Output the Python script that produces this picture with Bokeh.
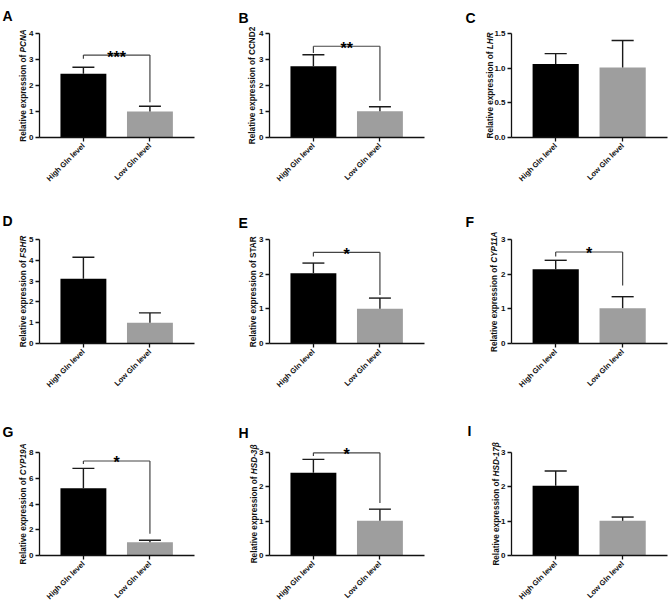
import math
from bokeh.plotting import figure
from bokeh.layouts import column, row
from bokeh.models import Range1d, FixedTicker, Label, PrintfTickFormatter
from bokeh.embed import file_html
from bokeh.resources import INLINE

# ---------------- data ----------------
groups = ["High Gln level", "Low Gln level"]
letters = ["A", "B", "C", "D", "E", "F", "G", "H", "I"]
genes = ["PCNA", "CCND2", "LHR", "FSHR", "STAR", "CYP11A", "CYP19A", "HSD-3\u03b2", "HSD-17\u03b2"]
gene_italic = [True, False, True, True, False, True, True, True, True]

means_A = [2.45, 1.00]; err_A = [0.25, 0.20]
means_B = [2.74, 1.01]; err_B = [0.44, 0.17]
means_C = [1.06, 1.01]; err_C = [0.15, 0.39]
means_D = [3.11, 1.00]; err_D = [1.04, 0.47]
means_E = [2.03, 1.00]; err_E = [0.29, 0.31]
means_F = [2.14, 1.02]; err_F = [0.26, 0.33]
means_G = [5.22, 1.02]; err_G = [1.55, 0.17]
means_H = [2.41, 1.01]; err_H = [0.39, 0.34]
means_I = [2.03, 1.01]; err_I = [0.43, 0.11]

ticks_A = [0, 1, 2, 3, 4]
ticks_B = [0, 1, 2, 3, 4]
ticks_C = [0.0, 0.5, 1.0, 1.5]
ticks_D = [0, 1, 2, 3, 4, 5]
ticks_E = [0, 1, 2, 3]
ticks_F = [0, 1, 2, 3]
ticks_G = [0, 2, 4, 6, 8]
ticks_H = [0, 1, 2, 3]
ticks_I = [0, 1, 2, 3]

# significance brackets: [bar level, left end, right end]
bracket_A = [3.17, 3.03, 1.36]; stars_A = "***"
bracket_B = [3.51, 3.25, 1.41]; stars_B = "**"
bracket_E = [2.63, 2.51, 1.40]; stars_E = "*"
bracket_F = [2.64, 2.51, 1.67]; stars_F = "*"
bracket_G = [7.34, 7.10, 1.68]; stars_G = "*"
bracket_H = [2.99, 2.90, 1.53]; stars_H = "*"

means = [means_A, means_B, means_C, means_D, means_E, means_F, means_G, means_H, means_I]
errs = [err_A, err_B, err_C, err_D, err_E, err_F, err_G, err_H, err_I]
ticks = [ticks_A, ticks_B, ticks_C, ticks_D, ticks_E, ticks_F, ticks_G, ticks_H, ticks_I]
brackets = [bracket_A, bracket_B, None, None, bracket_E, bracket_F, bracket_G, bracket_H, None]
stars = [stars_A, stars_B, None, None, stars_E, stars_F, stars_G, stars_H, None]

# ---------------- style / layout ----------------
FONT = "Liberation Sans"
bar_colors = ["#000000", "#9e9e9e"]
X0, X1 = -0.66, 1.67
BAR_W = 0.69
CAP = 0.33

col_w = [220, 220, 229]
row_h = [195, 200, 208]
frame_left = [39, 49, 71]
frame_w = [155, 155, 156]
frame_top = [33, 44, 57]
frame_h = [104, 104, 103]
ylab_off = [16.5, 17, 21, 16.5, 16.5, 17.5, 16, 15.5, 15.5]
letter_pos = [(2, 5), (18, 7), (25, 7), (2, 15), (18, 17), (25, 16), (2, 26), (18, 27), (27, 25)]

# approximate advance widths (em) for Arial/Liberation bold
W = {' ': .278, 'R': .722, 'e': .556, 'l': .278, 'a': .556, 't': .333, 'i': .278, 'v': .556,
     'x': .556, 'p': .611, 'r': .389, 's': .556, 'o': .611, 'n': .611, 'f': .333,
     'A': .722, 'C': .722, 'D': .722, 'H': .722, 'L': .611, 'N': .722, 'P': .667, 'S': .667,
     'T': .611, 'Y': .667, 'F': .611, '-': .333, '\u03b2': .611}


def tw(s, size):
    return sum(W.get(c, .556) for c in s) * size


def panel(k):
    r, c = divmod(k, 3)
    fw, fh = frame_w[c], frame_h[r]
    cw, chh = col_w[c], row_h[r]
    fl, ft = frame_left[c], frame_top[r]
    ymax = ticks[k][-1]
    dx = (X1 - X0) / fw  # data per px
    dy = ymax / fh
    xr = Range1d(X0 - fl * dx, X1 + (cw - fl - fw) * dx)
    yr = Range1d(-(chh - ft - fh) * dy, ymax + ft * dy)

    def px(xp):  # pixel (from cell left) -> data x
        return xr.start + xp * dx

    def py(yp):  # pixel (from cell top) -> data y
        return yr.end - yp * dy

    p = figure(width=cw, height=chh, output_backend="svg", toolbar_location=None,
               x_range=xr, y_range=yr, min_border=0)
    p.min_border_left = 0
    p.min_border_right = 0
    p.min_border_top = 0
    p.min_border_bottom = 0
    p.outline_line_color = None
    p.grid.visible = False
    p.background_fill_color = "white"
    p.border_fill_color = "white"

    xs = [0, 1]
    p.vbar(x=xs, top=means[k], width=BAR_W, fill_color=bar_colors, line_color=None)
    up = [m + e for m, e in zip(means[k], errs[k])]
    p.segment(x0=xs, y0=means[k], x1=xs, y1=up, line_color="#1a1a1a", line_width=1.4)
    p.segment(x0=[x - CAP / 2 for x in xs], y0=up, x1=[x + CAP / 2 for x in xs], y1=up,
              line_color="#1a1a1a", line_width=1.4)

    # axes, pinned at the data origin of the panel
    for ax in (p.xaxis[0], p.yaxis[0]):
        ax.axis_line_width = 1.3
        ax.axis_line_color = "#111111"
        ax.major_tick_line_color = "#111111"
        ax.major_tick_line_width = 1.3
        ax.major_tick_in = 0
        ax.major_tick_out = 4
        ax.minor_tick_line_color = None
        ax.major_label_text_font = FONT
        ax.major_label_text_font_style = "bold"
        ax.major_label_text_color = "#111111"
        ax.major_label_standoff = 2
    p.yaxis.fixed_location = X0
    p.yaxis.bounds = (0, ymax)
    p.xaxis.fixed_location = 0
    p.xaxis.bounds = (X0, X1)
    p.yaxis.ticker = FixedTicker(ticks=ticks[k])
    p.yaxis.formatter = PrintfTickFormatter(format="%.1f" if k == 2 else "%d")
    p.yaxis.major_label_text_font_size = "8px"
    p.xaxis.ticker = FixedTicker(ticks=xs)
    p.xaxis.major_label_overrides = {0: groups[0], 1: groups[1]}
    p.xaxis.major_label_orientation = math.pi / 4
    p.xaxis.major_label_text_font_size = "7.5px"
    p.xaxis.major_label_standoff = 3

    # y-axis label: bold prefix + (italic) gene name
    fs = 8.2
    pre = "Relative expression of "
    gene = genes[k]
    wp = tw(pre, fs)
    wg = tw(gene, fs)
    start = fh / 2 - (wp + wg) / 2
    split = (start + wp) * dy
    lx = X0 - ylab_off[k] * dx
    p.add_layout(Label(x=lx, y=split, text=pre, angle=math.pi / 2, text_align="right",
                       text_baseline="middle", text_font=FONT, text_font_style="bold",
                       text_font_size=f"{fs}px", text_color="#111111"))
    p.add_layout(Label(x=lx, y=split, text=gene, angle=math.pi / 2, text_align="left",
                       text_baseline="middle", text_font=FONT,
                       text_font_style="bold italic" if gene_italic[k] else "bold",
                       text_font_size=f"{fs}px", text_color="#111111"))

    # panel letter
    lxp, lyp = letter_pos[k]
    p.add_layout(Label(x=px(lxp), y=py(lyp + 10), text=letters[k], text_align="left",
                       text_baseline="alphabetic", text_font=FONT, text_font_style="bold",
                       text_font_size="14px", text_color="#000000"))

    # significance bracket
    if brackets[k] is not None:
        top, lend, rend = brackets[k]
        p.segment(x0=[0, 0, 1], y0=[top, top, top], x1=[1, 0, 1], y1=[top, lend, rend],
                  line_color="#444444", line_width=1.2)
        p.add_layout(Label(x=0.5, y=top - 2 * dy, text=stars[k], text_align="center",
                           text_baseline="alphabetic", text_font=FONT, text_font_style="bold",
                           text_font_size="16px", text_color="#000000"))
    return p


figs = [panel(k) for k in range(9)]
layout = column(row(*figs[0:3]), row(*figs[3:6]), row(*figs[6:9]))

open("out.html", "w").write(file_html(layout, INLINE))
